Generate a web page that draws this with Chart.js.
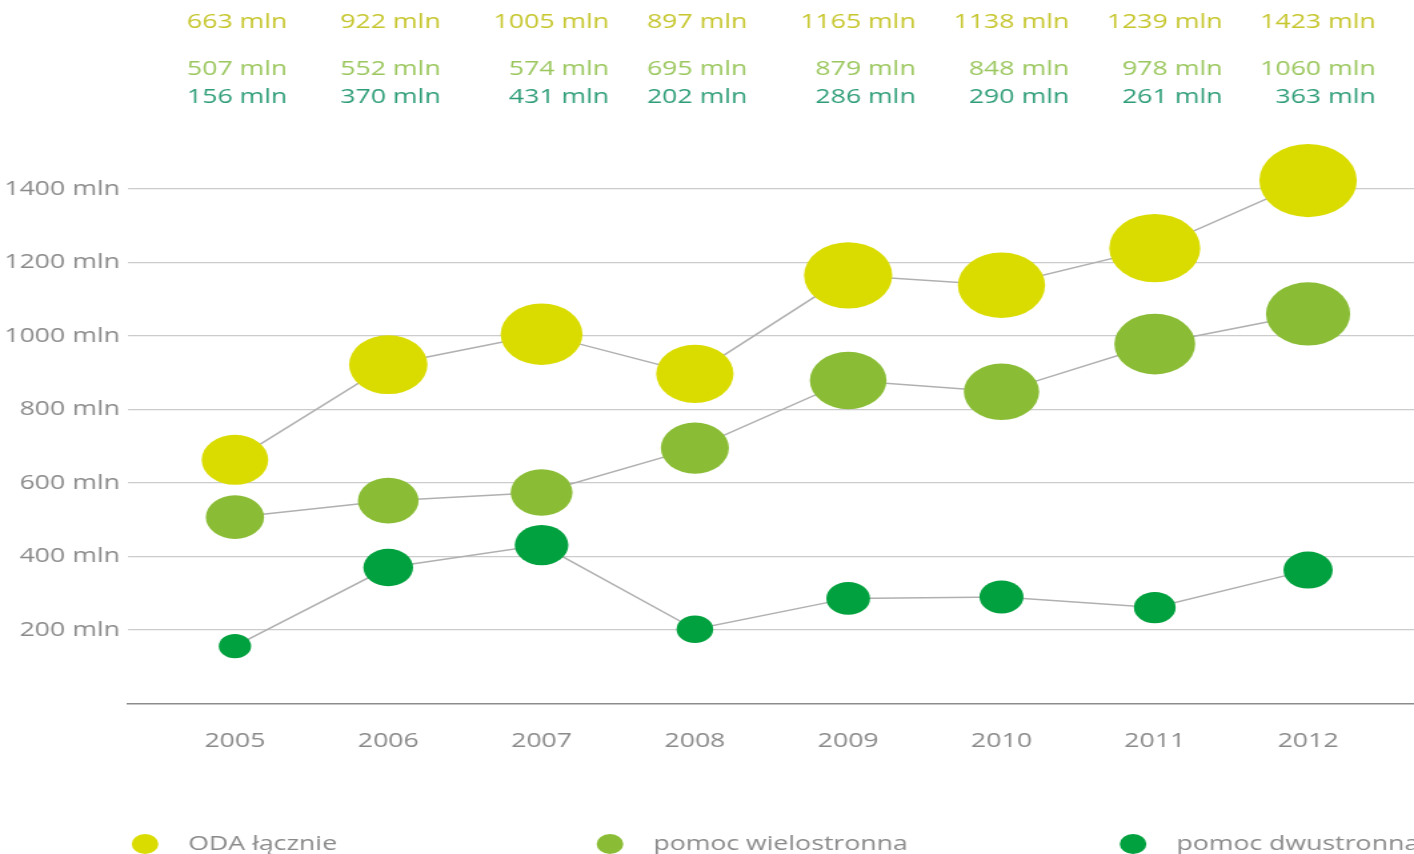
<!DOCTYPE html>
<html>
<head>
<meta charset="utf-8">
<script src="https://cdn.jsdelivr.net/npm/chart.js@4"></script>
<style>
  html, body { margin: 0; padding: 0; background: #fff; overflow: hidden; }
  #wrap { position: relative; width: 1061px; height: 854px; transform: scaleX(1.33271); transform-origin: 0 0; }
</style>
</head>
<body>
<div id="wrap"><canvas id="myChart"></canvas></div>
<script>
// data (mln)
const years = [2005, 2006, 2007, 2008, 2009, 2010, 2011, 2012];
const odaTotal = [663, 922, 1005, 897, 1165, 1138, 1239, 1423];
const multilateral = [507, 552, 574, 695, 879, 848, 978, 1060];
const bilateral = [156, 370, 431, 202, 286, 290, 261, 363];
const seriesNames = ['ODA łącznie', 'pomoc wielostronna', 'pomoc dwustronna'];
const yTicks = [0, 200, 400, 600, 800, 1000, 1200, 1400];

const dotColors = ['#dadc00', '#8abd35', '#00a13e'];
const labelColors = ['#c6c62e', '#9bc75e', '#2f9e78'];
const grayText = '#8a8a8a';
const FONT = '"Open Sans", sans-serif';

const toPoints = (vals) => vals.map((v, i) => ({ x: years[i], y: v }));

function makeSet(idx, vals) {
    return {
        label: seriesNames[idx],
        data: toPoints(vals),
        borderColor: '#b0b0b0',
        borderWidth: 1.5,
        backgroundColor: dotColors[idx],
        pointBackgroundColor: dotColors[idx],
        pointBorderWidth: 0,
        pointRadius: (c) => 0.97 * Math.sqrt(c.raw.y),
        pointHoverRadius: (c) => 0.97 * Math.sqrt(c.raw.y),
        clip: false,
        tension: 0
    };
}

// value rows above the plot + legend at the bottom
const extras = {
    id: 'extras',
    afterDraw(chart) {
        const g = chart.ctx;
        const xs = chart.scales.x;
        g.save();
        g.font = '20px ' + FONT;
        g.textBaseline = 'middle';
        const rows = [odaTotal, multilateral, bilateral];
        const rowY = [22, 69, 97];
        years.forEach((yr, i) => {
            const left = xs.getPixelForValue(yr) - 36;
            const top = odaTotal[i] + ' mln';
            const right = left + g.measureText(top).width;
            rows.forEach((r, k) => {
                g.fillStyle = labelColors[k];
                if (k === 0) {
                    g.textAlign = 'left';
                    g.fillText(top, left, rowY[k]);
                } else {
                    g.textAlign = 'right';
                    g.fillText(r[i] + ' mln', right, rowY[k]);
                }
            });
        });

        const legX = [108.8, 457.7, 850.2];
        const legY = 844;
        seriesNames.forEach((name, k) => {
            g.fillStyle = dotColors[k];
            g.beginPath();
            g.arc(legX[k], legY, 10, 0, Math.PI * 2);
            g.fill();
            g.fillStyle = grayText;
            g.textAlign = 'left';
            g.fillText(name, legX[k] + 32.5, legY);
        });
        g.restore();
    }
};

const ctx = document.getElementById('myChart').getContext('2d');
const myChart = new Chart(ctx, {
    type: 'line',
    data: {
        datasets: [
            makeSet(0, odaTotal),
            makeSet(1, multilateral),
            makeSet(2, bilateral)
        ]
    },
    options: {
        responsive: true,
        maintainAspectRatio: false,
        animation: false,
        layout: { autoPadding: false, padding: { top: 189, right: 0, bottom: 0, left: 0 } },
        plugins: {
            legend: { display: false },
            tooltip: { enabled: false }
        },
        scales: {
            x: {
                type: 'linear',
                min: 2004.302,
                max: 2012.691,
                afterBuildTicks: (s) => { s.ticks = years.map(v => ({ value: v })); },
                afterFit: (s) => { s.height = 150.5; },
                grid: { display: false, drawTicks: false },
                border: { display: true, color: '#8c8c8c', width: 1.5 },
                ticks: {
                    padding: 26,
                    color: grayText,
                    font: { family: FONT, size: 20 },
                    callback: (v) => String(v)
                }
            },
            y: {
                min: 0,
                max: 1400,
                afterBuildTicks: (s) => { s.ticks = yTicks.map(v => ({ value: v })); },
                afterFit: (s) => { s.width = 96; },
                grid: {
                    drawTicks: false,
                    color: (c) => c.tick && c.tick.value === 0 ? 'rgba(0,0,0,0)' : '#cccccc',
                    lineWidth: 1.2
                },
                border: { display: false },
                ticks: {
                    padding: 6,
                    color: grayText,
                    font: { family: FONT, size: 20 },
                    callback: (v) => v === 0 ? '' : v + ' mln'
                }
            }
        }
    },
    plugins: [extras]
});
</script>
</body>
</html>
